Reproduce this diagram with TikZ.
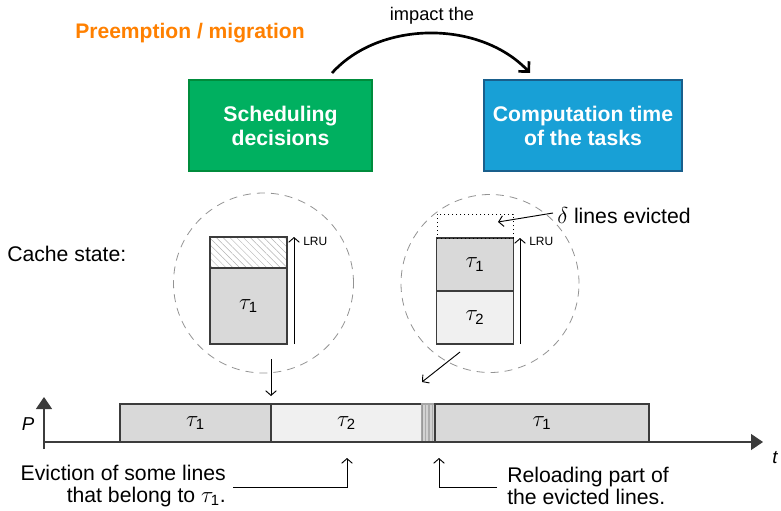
\documentclass[tikz,border=0pt]{standalone}
\usepackage{amsmath}
\usepackage{fontspec}
\setmainfont{Liberation Sans}
\usetikzlibrary{arrows.meta,patterns.meta}

\definecolor{orng}{RGB}{255,128,0}
\definecolor{schedgreen}{RGB}{0,176,96}
\definecolor{schedgreenedge}{RGB}{0,140,60}
\definecolor{compblue}{RGB}{24,160,214}
\definecolor{compblueedge}{RGB}{25,95,140}
\definecolor{taudark}{RGB}{217,217,217}
\definecolor{taulight}{RGB}{240,240,240}
\definecolor{edgegray}{RGB}{60,60,60}

\newcommand\tauof[1]{$\tau_{\text{#1}}$}

\begin{document}
\begin{tikzpicture}[x=0.75pt,y=-0.75pt,
  bigtext/.style={inner sep=0pt, font=\fontsize{15.9pt}{16.5pt}\selectfont},
  decision/.style={draw, line width=0.9pt, inner sep=0pt, minimum height=68.25pt,
    align=center, text=white, font=\fontsize{15.9pt}{18pt}\selectfont\bfseries},
  cell/.style={draw=edgegray, line width=0.8pt, inner sep=0pt, outer sep=0pt,
    minimum width=57.75pt, font=\fontsize{15.9pt}{16.5pt}\selectfont},
  slot/.style={draw=edgegray, line width=0.9pt, inner sep=0pt, outer sep=0pt,
    minimum height=28.5pt, font=\fontsize{15.9pt}{16.5pt}\selectfont},
  zone/.style={circle, draw=gray!85, dash pattern=on 6pt off 4.5pt, line width=0.6pt, inner sep=0pt},
  pointer/.style={line width=0.7pt, -{Straight Barb[length=3.5pt,width=8pt]}},
  lrulabel/.style={inner sep=0pt, anchor=west, font=\fontsize{9pt}{10pt}\selectfont},
  axis/.style={draw=edgegray, line width=1pt},
]
\useasboundingbox (0,0) rectangle (781,510);

% heading and the two concept boxes
\node[inner sep=0pt, text=orng, font=\fontsize{15.8pt}{18pt}\selectfont\bfseries] (title) at (190,33) {Preemption / migration};
\node[decision, fill=schedgreen, draw=schedgreenedge, minimum width=137.25pt] (sched) at (280.5,125.5) {Scheduling\\decisions};
\node[decision, fill=compblue, draw=compblueedge, minimum width=148.5pt] (comp) at (583,125.5) {Computation time\\of the tasks};

\coordinate (arcS) at (332,73);
\coordinate (arcE) at (530,73);
\draw[line width=2pt, -{Straight Barb[length=5.5pt,width=11pt]}] (arcS) .. controls (380,20) and (480,20) .. (arcE);
\node[inner sep=0pt, font=\fontsize{13.7pt}{15pt}\selectfont] (impact) at (432,16) {impact the};

% cache states
\node[bigtext, anchor=west] (cachelbl) at (7,254) {Cache state:};

\node[zone, minimum size=135pt] (lzone) at (263.5,283) {};
\node[zone, minimum size=133.5pt] (rzone) at (490,283.5) {};

\node[cell, minimum height=23.25pt, pattern={Lines[angle=-45,distance=3.6pt,line width=0.35pt]}, pattern color=gray!60] (lfree) at (248.5,252.5) {};
\node[cell, minimum height=57pt, fill=taudark] (ltau) at (248.5,306) {\tauof{1}};
\coordinate (llruB) at (294,344);
\coordinate (llruT) at (294,237);
\draw[pointer] (llruB) -- (llruT);
\node[lrulabel] (llru) at (303,241) {LRU};

\node[cell, minimum height=39.75pt, fill=taudark] (rtauA) at (475,264.5) {\tauof{1}};
\node[cell, minimum height=39.75pt, fill=taulight] (rtauB) at (475,317.5) {\tauof{2}};
\node[draw=black, line width=0.75pt, dash pattern=on 0.75pt off 2.25pt, inner sep=0pt, minimum width=57pt, minimum height=18pt] (rgone) at (475,226) {};
\coordinate (rlruB) at (520,344);
\coordinate (rlruT) at (520,238);
\draw[pointer] (rlruB) -- (rlruT);
\node[lrulabel] (rlru) at (529,241) {LRU};

\node[bigtext, anchor=west] (delta) at (557,216) {$\delta$ lines evicted};
\coordinate (deltaTail) at (553,213);
\coordinate (deltaTip) at (498,222);
\draw[pointer] (deltaTail) -- (deltaTip);

\coordinate (downA) at (271,359);
\coordinate (downB) at (271,396);
\draw[pointer] (downA) -- (downB);
\coordinate (diagA) at (460,352);
\coordinate (diagB) at (422,382);
\draw[pointer] (diagA) -- (diagB);

% schedule on processor P
\node[slot, fill=taudark, minimum width=113.25pt] (s1) at (195.5,423) {\tauof{1}};
\node[slot, fill=taulight, minimum width=113.25pt] (s2) at (346.5,423) {\tauof{2}};
\node[slot, fill=gray!35, draw=gray!70, minimum width=9.75pt] (reload) at (428.5,423) {};
\foreach \xx/\cc in {422.5/gray!80, 425.5/gray!65, 429/gray!65, 432.5/gray!65}
  \draw[\cc, line width=1.3pt] (\xx,405) -- (\xx,441);
\node[slot, fill=taudark, minimum width=160.5pt] (s3) at (542,423) {\tauof{1}};

\coordinate (orig) at (44,442);
\coordinate (ybot) at (44,449);
\coordinate (ytop) at (44,397);
\coordinate (xend) at (763,442);
\draw[axis, -{Triangle[length=9pt,width=12pt]}] (ybot) -- (ytop);
\draw[axis, -{Triangle[length=9pt,width=12pt]}] (orig) -- (xend);
\node[inner sep=0pt, font=\fontsize{14pt}{16pt}\selectfont\itshape] (plbl) at (28,424) {P};
\node[inner sep=0pt, font=\fontsize{14pt}{16pt}\selectfont\itshape] (tlbl) at (775,458) {t};

% annotations below the time line
\node[bigtext, align=right, anchor=east] (evict) at (226,486) {Eviction of some lines\\that belong to \tauof{1}.};
\coordinate (evictFoot) at (233,487);
\coordinate (evictTip) at (347,458);
\draw[pointer] (evictFoot) -| (evictTip);

\node[bigtext, align=left, anchor=west] (reloadtxt) at (507,486) {Reloading part of\\the evicted lines.};
\coordinate (reloadFoot) at (497,487);
\coordinate (reloadTip) at (439,458);
\draw[pointer] (reloadFoot) -| (reloadTip);
\end{tikzpicture}
\end{document}
